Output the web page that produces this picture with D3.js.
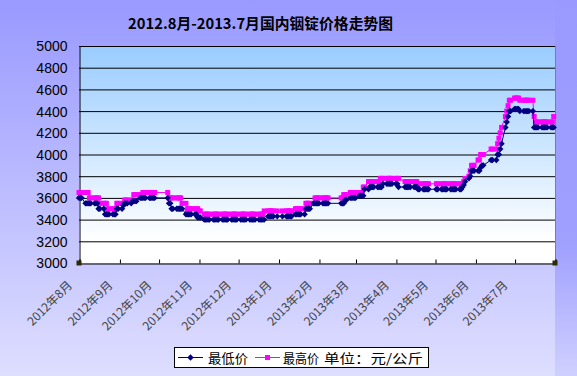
<!DOCTYPE html>
<html><head><meta charset="utf-8">
<script src="https://cdn.jsdelivr.net/npm/d3@7"></script>
<style>html,body{margin:0;padding:0;background:#fff;}svg{display:block;}</style>
</head><body>
<svg id="c" width="577" height="376"></svg>
<script>
const title = "2012.8月-2013.7月国内铟锭价格走势图";
const seriesNames = ["最低价", "最高价"];
const unitText = "单位：元/公斤";
const yTicks = [3000,3200,3400,3600,3800,4000,4200,4400,4600,4800,5000];
const monthTicks = ["2012-08-01","2012-09-01","2012-10-01","2012-11-01","2012-12-01","2013-01-01","2013-02-01","2013-03-01","2013-04-01","2013-05-01","2013-06-01","2013-07-01","2013-08-01"];
const monthLabels = ["2012年8月","2012年9月","2012年10月","2012年11月","2012年12月","2013年1月","2013年2月","2013年3月","2013年4月","2013年5月","2013年6月","2013年7月"];

const dates = [
"2012-08-01","2012-08-02","2012-08-03","2012-08-06","2012-08-07","2012-08-08","2012-08-09","2012-08-10","2012-08-13","2012-08-14","2012-08-15","2012-08-16","2012-08-17","2012-08-20","2012-08-21","2012-08-22","2012-08-23","2012-08-24","2012-08-27","2012-08-28","2012-08-29","2012-08-30","2012-08-31",
"2012-09-03","2012-09-04","2012-09-05","2012-09-06","2012-09-07","2012-09-10","2012-09-11","2012-09-12","2012-09-13","2012-09-14","2012-09-17","2012-09-18","2012-09-19","2012-09-20","2012-09-21","2012-09-24","2012-09-25","2012-09-26","2012-09-27","2012-09-28",
"2012-10-08","2012-10-09","2012-10-10","2012-10-11","2012-10-12","2012-10-15","2012-10-16","2012-10-17","2012-10-18","2012-10-19","2012-10-22","2012-10-23","2012-10-24","2012-10-25","2012-10-26","2012-10-29","2012-10-30","2012-10-31",
"2012-11-01","2012-11-02","2012-11-05","2012-11-06","2012-11-07","2012-11-08","2012-11-09","2012-11-12","2012-11-13","2012-11-14","2012-11-15","2012-11-16","2012-11-19","2012-11-20","2012-11-21","2012-11-22","2012-11-23","2012-11-26","2012-11-27","2012-11-28","2012-11-29","2012-11-30",
"2012-12-03","2012-12-04","2012-12-05","2012-12-06","2012-12-07","2012-12-10","2012-12-11","2012-12-12","2012-12-13","2012-12-14","2012-12-17","2012-12-18","2012-12-19","2012-12-20","2012-12-21","2012-12-24","2012-12-25","2012-12-26","2012-12-27","2012-12-28","2012-12-31",
"2013-01-04","2013-01-07","2013-01-08","2013-01-09","2013-01-10","2013-01-11","2013-01-14","2013-01-15","2013-01-16","2013-01-17","2013-01-18","2013-01-21","2013-01-22","2013-01-23","2013-01-24","2013-01-25","2013-01-28","2013-01-29","2013-01-30","2013-01-31",
"2013-02-01","2013-02-04","2013-02-05","2013-02-06","2013-02-07","2013-02-08","2013-02-18","2013-02-19","2013-02-20","2013-02-21","2013-02-22","2013-02-25","2013-02-26","2013-02-27","2013-02-28",
"2013-03-01","2013-03-04","2013-03-05","2013-03-06","2013-03-07","2013-03-08","2013-03-11","2013-03-12","2013-03-13","2013-03-14","2013-03-15","2013-03-18","2013-03-19","2013-03-20","2013-03-21","2013-03-22","2013-03-25","2013-03-26","2013-03-27","2013-03-28","2013-03-29",
"2013-04-01","2013-04-02","2013-04-03","2013-04-08","2013-04-09","2013-04-10","2013-04-11","2013-04-12","2013-04-15","2013-04-16","2013-04-17","2013-04-18","2013-04-19","2013-04-22","2013-04-23","2013-04-24","2013-04-25","2013-04-26",
"2013-05-02","2013-05-03","2013-05-06","2013-05-07","2013-05-08","2013-05-09","2013-05-10","2013-05-13","2013-05-14","2013-05-15","2013-05-16","2013-05-17","2013-05-20","2013-05-21","2013-05-22","2013-05-23","2013-05-24","2013-05-27","2013-05-28","2013-05-29","2013-05-30","2013-05-31",
"2013-06-03","2013-06-04","2013-06-05","2013-06-06","2013-06-07","2013-06-13","2013-06-14","2013-06-17","2013-06-18","2013-06-19","2013-06-20","2013-06-21","2013-06-24","2013-06-25","2013-06-26","2013-06-27","2013-06-28",
"2013-07-01","2013-07-02","2013-07-03","2013-07-04","2013-07-05","2013-07-08","2013-07-09","2013-07-10","2013-07-11","2013-07-12","2013-07-15","2013-07-16","2013-07-17","2013-07-18","2013-07-19","2013-07-22","2013-07-23","2013-07-24","2013-07-25","2013-07-26","2013-07-29","2013-07-30","2013-07-31"
];

const lowPrices = [
3600,3600,3600,3550,3550,3550,3550,3550,3550,3550,3550,3500,3500,3500,3450,3450,3450,3450,3450,3450,3450,3500,3500,
3500,3530,3550,3550,3550,3550,3570,3570,3570,3570,3600,3600,3600,3600,3600,3600,3600,3600,3600,3600,
3600,3550,3550,3500,3500,3500,3500,3500,3500,3500,3450,3450,3450,3450,3450,3450,3450,3420,
3420,3420,3400,3400,3400,3400,3400,3400,3400,3400,3400,3400,3400,3400,3400,3400,3400,3400,3400,3400,3400,3400,
3400,3400,3400,3400,3400,3400,3400,3400,3400,3400,3400,3400,3400,3400,3400,3430,3430,3430,3430,3430,3430,
3430,3430,3430,3430,3430,3430,3450,3450,3450,3450,3450,3450,3500,3500,3500,3500,3550,3550,3550,3550,
3550,3550,3550,3550,3550,3550,3550,3550,3550,3580,3580,3600,3600,3600,3600,
3600,3620,3620,3620,3620,3680,3680,3700,3700,3700,3700,3700,3700,3700,3700,3730,3730,3730,3730,3730,3730,
3730,3730,3700,3700,3700,3700,3700,3700,3700,3700,3700,3680,3680,3680,3680,3680,3680,3680,
3680,3680,3680,3680,3680,3680,3680,3680,3680,3680,3680,3680,3680,3680,3700,3720,3750,3780,3800,3850,3850,3850,
3850,3850,3880,3900,3900,3950,3950,3950,4000,4000,4050,4100,4250,4300,4350,4400,4400,
4420,4420,4420,4420,4400,4400,4400,4400,4400,4400,4400,4250,4250,4250,4250,4250,4250,4250,4250,4250,4250,4250,4250
];

const highPrices = [
3650,3650,3650,3650,3650,3650,3600,3600,3600,3600,3600,3600,3550,3550,3550,3550,3500,3500,3500,3500,3500,3550,3550,
3550,3550,3580,3580,3580,3580,3580,3630,3630,3630,3630,3630,3650,3650,3650,3650,3650,3650,3650,3650,
3650,3600,3600,3600,3600,3600,3600,3600,3600,3550,3550,3500,3500,3500,3500,3500,3500,3500,
3480,3480,3450,3450,3450,3450,3450,3450,3450,3450,3450,3450,3450,3450,3450,3450,3450,3450,3450,3450,3450,3450,
3450,3450,3450,3450,3450,3450,3450,3450,3450,3450,3450,3450,3450,3450,3480,3480,3480,3480,3480,3480,3480,
3480,3480,3480,3480,3480,3480,3500,3500,3500,3500,3500,3500,3550,3550,3550,3550,3550,3600,3600,3600,
3600,3600,3600,3600,3600,3600,3600,3600,3630,3630,3630,3650,3650,3650,3650,
3650,3650,3650,3650,3700,3700,3750,3750,3750,3750,3750,3750,3750,3780,3780,3780,3780,3780,3780,3780,3780,
3780,3780,3780,3750,3750,3750,3750,3750,3750,3750,3750,3730,3730,3730,3730,3730,3730,3730,
3730,3730,3730,3730,3730,3730,3730,3730,3730,3730,3730,3730,3730,3730,3730,3750,3780,3800,3850,3900,3900,3900,
3950,3950,4000,4000,4000,4050,4050,4050,4100,4150,4200,4250,4350,4400,4450,4500,4500,
4520,4520,4520,4520,4500,4500,4500,4500,4500,4500,4500,4350,4300,4300,4300,4300,4300,4300,4300,4300,4300,4300,4350
];

const parse = d3.timeParse("%Y-%m-%d");
const svg = d3.select("#c");
const W = 577, H = 376;
const L = 79, R = 555, T = 46, B = 263;
const cjk = "'Noto Sans CJK SC',sans-serif";

const defs = svg.append("defs");
const bg = defs.append("linearGradient").attr("id","bg").attr("x1",0).attr("y1",0).attr("x2",0).attr("y2",1);
bg.append("stop").attr("offset","0%").attr("stop-color","#9999ff");
bg.append("stop").attr("offset","100%").attr("stop-color","#dedeff");
const bgR = defs.append("linearGradient").attr("id","bgR").attr("x1",0).attr("y1",0).attr("x2",0).attr("y2",1);
bgR.append("stop").attr("offset","0%").attr("stop-color","#9999ff");
bgR.append("stop").attr("offset","65%").attr("stop-color","#a0a0ff");
bgR.append("stop").attr("offset","100%").attr("stop-color","#d0d0ff");
const pg = defs.append("linearGradient").attr("id","pg").attr("x1",0).attr("y1",0).attr("x2",0).attr("y2",1);
pg.append("stop").attr("offset","0%").attr("stop-color","#99ccff");
pg.append("stop").attr("offset","90%").attr("stop-color","#ffffff");

svg.append("rect").attr("width",W).attr("height",H).attr("fill","url(#bg)");
svg.append("rect").attr("x",R).attr("width",W-R).attr("height",H).attr("fill","url(#bgR)");

const x = d3.scaleTime().domain([parse(monthTicks[0]), parse(monthTicks[monthTicks.length-1])]).range([L, R]);
const y = d3.scaleLinear().domain([3000, 5000]).range([B, T]);

svg.append("rect").attr("x",L).attr("y",T).attr("width",R-L).attr("height",B-T).attr("fill","url(#pg)");

// grid
svg.append("g").selectAll("line").data(yTicks.filter(v=>v>3000)).join("line")
  .attr("x1",L).attr("x2",R).attr("y1",d=>y(d)+0.5).attr("y2",d=>y(d)+0.5)
  .attr("stroke","#000").attr("stroke-width",1);
svg.append("line").attr("x1",R+0.5).attr("x2",R+0.5).attr("y1",T).attr("y2",B).attr("stroke","#808080");

// y axis
const yAxis = d3.axisLeft(y).tickValues(yTicks).tickSize(0).tickPadding(12).tickFormat(d3.format("d"));
const yg = svg.append("g").attr("transform",`translate(${L+0.5},0.5)`).call(yAxis);
yg.select(".domain").attr("stroke","#000");
yg.selectAll("text").attr("font-family","'Liberation Sans',Arial,sans-serif").attr("font-size",14).attr("fill","#000");

// x axis
const xAxis = d3.axisBottom(x).tickValues(monthTicks.map(parse)).tickSize(-4).tickFormat("");
const xg = svg.append("g").attr("transform",`translate(0.5,${B+0.5})`).call(xAxis);
xg.select(".domain").attr("stroke","#000");
xg.selectAll(".tick line").attr("stroke","#000");

svg.append("g").selectAll("text").data(monthLabels).join("text")
  .attr("transform",(d,i)=>`translate(${x(parse(monthTicks[i]))-6},${B+23}) rotate(-45)`)
  .attr("text-anchor","end")
  .attr("font-family",cjk).attr("font-size",12)
  .attr("fill","#444").text(d=>d);

// corner handles
svg.append("g").selectAll("rect").data([x.range()[0], x.range()[1]]).join("rect")
  .attr("x",d=>d-2.5).attr("y",B-2.5).attr("width",5).attr("height",5).attr("fill","#2b2b00");

// series
const lowData = dates.map((d,i)=>({date:parse(d), v:lowPrices[i]}));
const highData = dates.map((d,i)=>({date:parse(d), v:highPrices[i]}));
const line = d3.line().x(d=>x(d.date)).y(d=>y(d.v));
const diamondPath = "M0,-3.2L3.2,0L0,3.2L-3.2,0Z";

svg.append("path").datum(highData).attr("d",line).attr("fill","none").attr("stroke","#ff00ff").attr("stroke-width",1);
svg.append("g").selectAll("rect").data(highData).join("rect")
  .attr("x",d=>x(d.date)-2.5).attr("y",d=>y(d.v)-2.5).attr("width",5).attr("height",5).attr("fill","#ff00ff");

svg.append("path").datum(lowData).attr("d",line).attr("fill","none").attr("stroke","#000080").attr("stroke-width",1);
svg.append("g").selectAll("path").data(lowData).join("path")
  .attr("transform",d=>`translate(${x(d.date)},${y(d.v)})`).attr("d",diamondPath).attr("fill","#000080");

// title
svg.append("text").attr("x",260.5).attr("y",29).attr("text-anchor","middle")
  .attr("font-family",cjk).attr("font-weight","bold").attr("font-size",15)
  .attr("textLength",265).attr("lengthAdjust","spacingAndGlyphs").attr("fill","#000").text(title);

// legend
const lg = svg.append("g");
lg.append("rect").attr("x",174.5).attr("y",347.5).attr("width",254).attr("height",20).attr("fill","#fff").attr("stroke","#000");
lg.append("line").attr("x1",178).attr("x2",203).attr("y1",357.5).attr("y2",357.5).attr("stroke","#000080");
lg.append("path").attr("transform","translate(190.5,357.5)").attr("d",diamondPath).attr("fill","#000080");
lg.append("text").attr("x",208).attr("y",362.5).attr("font-family",cjk).attr("font-size",13)
  .attr("textLength",40).attr("lengthAdjust","spacingAndGlyphs").text(seriesNames[0]);
lg.append("line").attr("x1",255).attr("x2",280).attr("y1",357.5).attr("y2",357.5).attr("stroke","#ff00ff");
lg.append("rect").attr("x",265).attr("y",355).attr("width",5).attr("height",5).attr("fill","#ff00ff");
lg.append("text").attr("x",283).attr("y",362.5).attr("font-family",cjk).attr("font-size",13)
  .attr("textLength",36).attr("lengthAdjust","spacingAndGlyphs").text(seriesNames[1]);
lg.append("text").attr("x",324).attr("y",362.5).attr("font-family",cjk).attr("font-size",13)
  .attr("textLength",99).attr("lengthAdjust","spacingAndGlyphs").text(unitText);
</script>
</body></html>
